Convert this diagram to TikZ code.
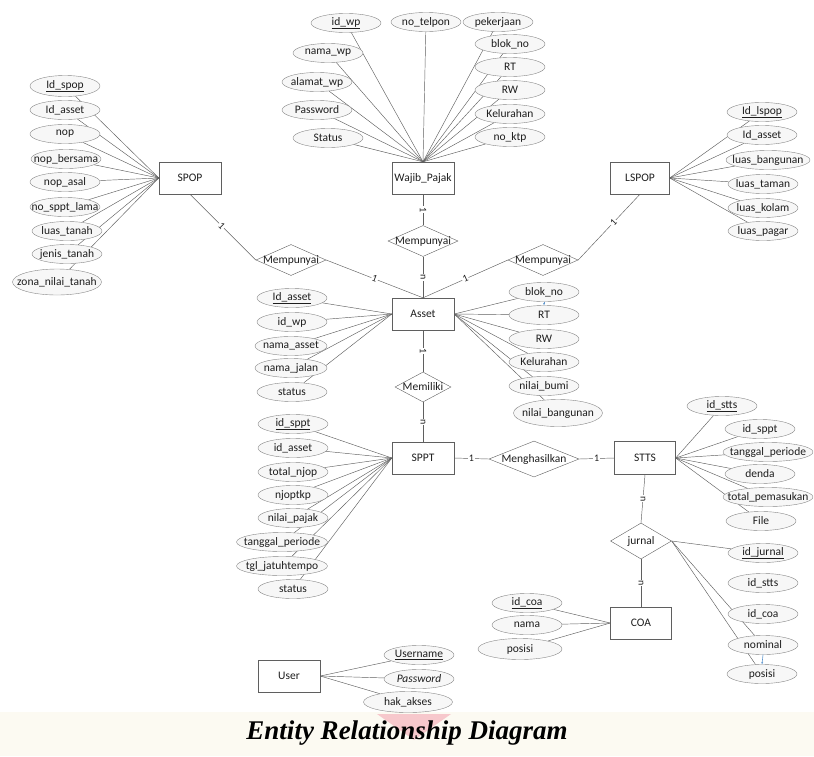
\documentclass[tikz,border=0pt]{standalone}
\usepackage{fontspec}
\setmainfont{Carlito}
\newfontfamily\capfont{Liberation Serif}
\usetikzlibrary{shapes.geometric, arrows.meta, positioning, backgrounds}

\definecolor{linegray}{RGB}{95,95,95}
\definecolor{attrfill}{RGB}{247,247,247}
\definecolor{txtgray}{RGB}{30,30,30}
\definecolor{capband}{RGB}{252,250,242}
\definecolor{markpink}{RGB}{247,200,204}
\definecolor{tickblue}{RGB}{95,150,205}

\begin{document}
\begin{tikzpicture}[
    x=1pt, y=-1pt,
    entity/.style={draw=linegray, fill=white, minimum width=62pt, minimum height=32pt, inner sep=0pt, font=\fontsize{11.5}{12}\selectfont, text=txtgray},
    attr/.style={ellipse, draw=linegray!75, fill=attrfill, inner xsep=-40pt, inner ysep=-12pt, minimum width=70pt, minimum height=19pt, font=\fontsize{11.5}{12}\selectfont, text=txtgray},
    rel/.style={diamond, draw=linegray, fill=white, inner xsep=-40pt, inner ysep=-12pt, minimum width=70pt, minimum height=31pt, font=\fontsize{11.5}{12}\selectfont, text=txtgray},
    link/.style={draw=linegray, line width=0.45pt},
    card/.style={fill=white, inner sep=0.8pt, font=\fontsize{10}{10}\selectfont, text=txtgray}
]
    \useasboundingbox (0,0) rectangle (814,756);

    % Wajib_Pajak
    \node[entity] (wp) at (423,178) {Wajib\_Pajak};
    \node[attr] (idwp) at (346,23) {\underline{id\_wp}};
    \node[attr] (telp) at (426,22) {no\_telpon};
    \node[attr] (kerja) at (498,22) {pekerjaan};
    \node[attr] (namawp) at (328,53) {nama\_wp};
    \node[attr] (alamatwp) at (317,82) {alamat\_wp};
    \node[attr] (passwp) at (317,110) {Password};
    \node[attr] (statuswp) at (328,138) {Status};
    \node[attr] (blokwp) at (510,44) {blok\_no};
    \node[attr] (rtwp) at (510,67) {RT};
    \node[attr] (rwwp) at (510,90) {RW};
    \node[attr] (kelwp) at (510,114) {Kelurahan};
    \node[attr] (ktpwp) at (510,137) {no\_ktp};

    % SPOP
    \node[entity] (spop) at (190,178) {SPOP};
    \node[attr, minimum height=21pt] (idspop) at (65,86) {\underline{Id\_spop}};
    \node[attr] (assetsp) at (65,110) {Id\_asset};
    \node[attr] (nop) at (65,134) {nop};
    \node[attr] (nopb) at (66,159) {nop\_bersama};
    \node[attr] (nopa) at (65,182) {nop\_asal};
    \node[attr] (spptl) at (65,207) {no\_sppt\_lama};
    \node[attr] (ltanah) at (67,231) {luas\_tanah};
    \node[attr] (jtanah) at (67,254) {jenis\_tanah};
    \node[attr, minimum width=89pt, minimum height=26pt] (zona) at (57,282) {zona\_nilai\_tanah};

    % LSPOP
    \node[entity, minimum width=59pt] (lspop) at (640,178) {LSPOP};
    \node[attr] (idlspop) at (762,112) {\underline{Id\_lspop}};
    \node[attr] (assetls) at (762,135) {Id\_asset};
    \node[attr, minimum width=84pt] (lbang) at (768,160) {luas\_bangunan};
    \node[attr] (ltaman) at (763,184) {luas\_taman};
    \node[attr] (lkolam) at (763,208) {luas\_kolam};
    \node[attr] (lpagar) at (763,231) {luas\_pagar};

    % Asset
    \node[entity] (asset) at (423,314) {Asset};
    \node[attr] (idasset) at (292,298) {\underline{Id\_asset}};
    \node[attr] (wpas) at (292,322) {id\_wp};
    \node[attr, minimum width=72pt] (namaas) at (291,346) {nama\_asset};
    \node[attr, minimum width=72pt] (jalan) at (291,368) {nama\_jalan};
    \node[attr] (statusas) at (292,392) {status};
    \node[attr] (blokas) at (544,292) {blok\_no};
    \node[attr] (rtas) at (544,315) {RT};
    \node[attr] (rwas) at (544,339) {RW};
    \node[attr] (kelas) at (544,362) {Kelurahan};
    \node[attr] (bumi) at (544,386) {nilai\_bumi};
    \node[attr, minimum width=89pt, minimum height=27pt] (bangunan) at (558,413) {nilai\_bangunan};
    \draw[-{Stealth[length=2.5pt]}, tickblue, line width=0.6pt] (blokas.south) -- (rtas.north);

    % SPPT
    \node[entity] (sppt) at (423,458) {SPPT};
    \node[attr] (idsppt) at (293,424) {\underline{id\_sppt}};
    \node[attr] (assetsppt) at (293,448) {id\_asset};
    \node[attr] (njop) at (293,472) {total\_njop};
    \node[attr] (njoptkp) at (293,495) {njoptkp};
    \node[attr] (pajak) at (293,518) {nilai\_pajak};
    \node[attr, minimum width=91pt] (periode) at (282,542) {tanggal\_periode};
    \node[attr, minimum width=91pt] (tempo) at (282,566) {tgl\_jatuhtempo};
    \node[attr] (statussppt) at (293,589) {status};

    % STTS
    \node[entity, minimum width=61pt, minimum height=33pt] (stts) at (645,458) {STTS};
    \node[attr] (idstts) at (722,406) {\underline{id\_stts}};
    \node[attr] (spptst) at (760,429) {id\_sppt};
    \node[attr, minimum width=90pt] (periodest) at (768,452) {tanggal\_periode};
    \node[attr] (denda) at (760,474) {denda};
    \node[attr, minimum width=90pt] (masuk) at (768,497) {total\_pemasukan};
    \node[attr] (file) at (761,521) {File};

    % jurnal
    \node[rel, minimum width=61pt, minimum height=36pt] (jurnal) at (641,541) {jurnal};
    \node[attr] (idjurnal) at (763,553) {\underline{id\_jurnal}};
    \node[attr] (sttsjr) at (763,583) {id\_stts};
    \node[attr] (coajr) at (763,614) {id\_coa};
    \node[attr] (nominal) at (763,645) {nominal};
    \node[attr] (posisijr) at (762,674) {posisi};
    \draw[-{Stealth[length=2.5pt]}, tickblue, line width=0.6pt] (nominal.south) -- (posisijr.north);

    % COA
    \node[entity, minimum width=61pt] (coa) at (641,623) {COA};
    \node[attr] (idcoa) at (527,603) {\underline{id\_coa}};
    \node[attr] (nama) at (527,625) {nama};
    \node[attr, minimum width=84pt, minimum height=21pt] (posisi) at (520,649) {posisi};

    % User
    \node[entity] (user) at (289,676) {User};
    \node[attr] (uname) at (419,655) {\underline{Username}};
    \node[attr] (upass) at (419,679) {\textit{Password}};
    \node[attr, minimum width=89pt, minimum height=21pt] (akses) at (408,702) {hak\_akses};

    % relationships
    \node[rel] (mp1) at (423,241) {Mempunyai};
    \node[rel] (mp2) at (291,260) {Mempunyai};
    \node[rel] (mp3) at (543,260) {Mempunyai};
    \node[rel, minimum width=56pt, minimum height=30pt] (milik) at (423,387) {Memiliki};
    \node[rel, minimum width=90pt, minimum height=36pt] (hasil) at (534,459) {Menghasilkan};

    % caption
    \node[font=\capfont\bfseries\itshape\fontsize{27}{30}\selectfont] (caption) at (407,733) {Entity Relationship Diagram};

    \begin{scope}[on background layer]
        % bottom band and mark behind the caption
        \fill[capband] (0,712) rectangle (814,756);
        \fill[markpink] (377,714) -- (451,714) -- (414,740) -- cycle;

        % attribute links
        \foreach \a in {idwp,telp,kerja,namawp,alamatwp,passwp,statuswp,blokwp,rtwp,rwwp,kelwp,ktpwp}
            \draw[link] (\a) -- (wp.north);
        \foreach \a in {idspop,assetsp,nop,nopb,nopa,spptl,ltanah,jtanah,zona}
            \draw[link] (\a) -- (spop.west);
        \foreach \a in {idlspop,assetls,lbang,ltaman,lkolam,lpagar}
            \draw[link] (\a) -- (lspop.east);
        \foreach \a in {idasset,wpas,namaas,jalan,statusas}
            \draw[link] (\a) -- (asset.west);
        \foreach \a in {blokas,rtas,rwas,kelas,bumi,bangunan}
            \draw[link] (\a) -- (asset.east);
        \foreach \a in {idsppt,assetsppt,njop,njoptkp,pajak,periode,tempo,statussppt}
            \draw[link] (\a) -- (sppt.west);
        \foreach \a in {idstts,spptst,periodest,denda,masuk,file}
            \draw[link] (\a) -- (stts.east);
        \foreach \a in {idjurnal,nominal,posisijr}
            \draw[link] (\a) -- (jurnal.east);
        \foreach \a in {idcoa,nama,posisi}
            \draw[link] (\a) -- (coa.west);
        \foreach \a in {uname,upass,akses}
            \draw[link] (\a) -- (user.east);

        % relationship links
        \draw[link] (wp.south) -- node[card, rotate=-90] {1} (mp1.north);
        \draw[link] (mp1.south) -- node[card, rotate=-90] {n} (asset.north);
        \draw[link] (spop.south) -- node[card, sloped, pos=0.48] {1} (mp2.west);
        \draw[link] (mp2.east) -- node[card, sloped] {1} (asset.north);
        \draw[link] (mp3.west) -- node[card, sloped] {1} (asset.north);
        \draw[link] (mp3.east) -- node[card, sloped, pos=0.57] {1} (lspop.south);
        \draw[link] (asset.south) -- node[card, rotate=-90] {1} (milik.north);
        \draw[link] (milik.south) -- node[card, rotate=-90] {n} (sppt.north);
        \draw[link] (sppt.east) -- node[card] {1} (hasil.west);
        \draw[link] (hasil.east) -- node[card] {1} (stts.west);
        \draw[link] (stts.south) -- node[card, rotate=-90] {n} (jurnal.north);
        \draw[link] (jurnal.south) -- node[card, rotate=-90] {n} (coa.north);
    \end{scope}
\end{tikzpicture}
\end{document}
